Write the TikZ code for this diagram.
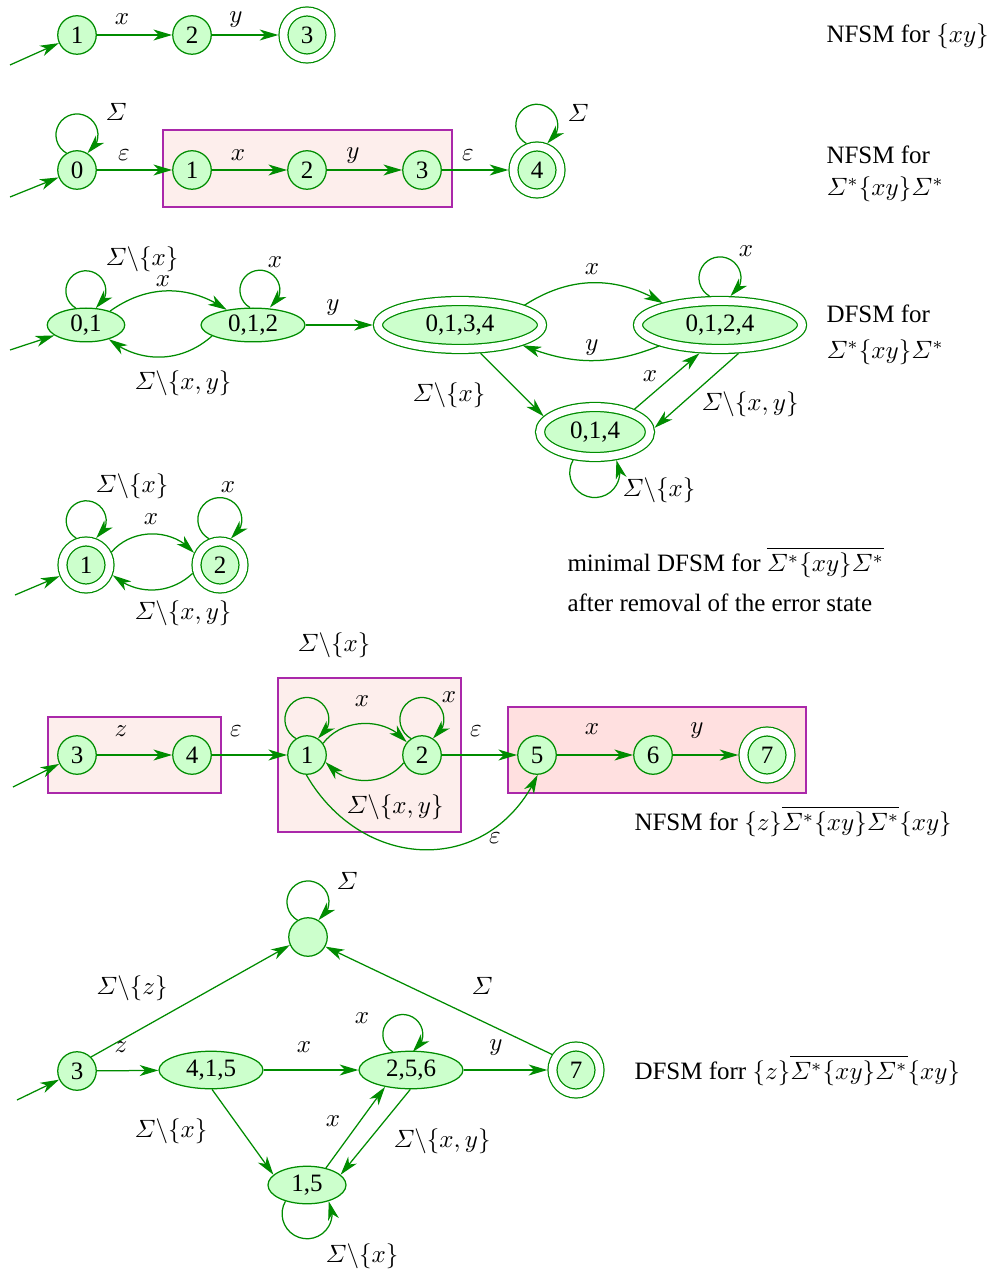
\documentclass[tikz,border=0pt]{standalone}
\usepackage{amsmath}
\usepackage{fontspec}
\setmainfont{Liberation Serif}
\usetikzlibrary{shapes.geometric,arrows.meta,bending}
\definecolor{fg}{RGB}{0,140,0}
\definecolor{fl}{RGB}{204,255,204}
\definecolor{bx}{RGB}{170,40,170}
\definecolor{pka}{RGB}{253,238,236}
\definecolor{pkb}{RGB}{255,224,224}
\newcommand{\Sx}{\varSigma\backslash\{x\}}
\newcommand{\Sxy}{\varSigma\backslash\{x,y\}}
\newcommand{\Sz}{\varSigma\backslash\{z\}}
\newcommand{\Sst}{\varSigma^*\{xy\}\varSigma^*}
\begin{document}
\begin{tikzpicture}[x=0.4pt,y=0.4pt,
 st/.style={circle,draw=fg,fill=fl,line width=0.5pt,minimum size=15.4pt,inner sep=0pt},
 acc/.style={st,minimum size=18.8pt,double=white,double distance=3.1pt,outer sep=2.05pt},
 el/.style={ellipse,draw=fg,fill=fl,line width=0.5pt,inner sep=0pt},
 accel/.style={el,double=white,double distance=3.1pt,outer sep=2.05pt},
 tr/.style={draw=fg,line width=0.5pt,-{Stealth[length=7.5pt,width=4.4pt,inset=2.2pt,flex]}},
 lb/.style={inner sep=0pt},
 txt/.style={anchor=base west,inner sep=0pt},
 bxa/.style={draw=bx,fill=pka,line width=0.5pt},
 bxb/.style={draw=bx,fill=pkb,line width=0.5pt}]
\fill[white] (0,0) rectangle (992,-1271);
\useasboundingbox (0,0) rectangle (992,-1271);

% ---------- row 1 ----------
\coordinate (a0) at (10,-65);
\node[st] (a1) at (77,-35) {1};
\node[st] (a2) at (192,-35) {2};
\node[acc] (a3) at (307,-35) {3};
\draw[tr] (a0) -- (a1);
\draw[tr] (a1) -- (a2);
\draw[tr] (a2) -- (a3);
\node[lb] (la1) at (122,-19) {$x$};
\node[lb] (la2) at (236,-20) {$y$};
\node[txt] (ta) at (826,-43) {NFSM for $\{xy\}$};

% ---------- row 2 ----------
\draw[bxa] (163,-130) rectangle (452,-207);
\coordinate (b00) at (10,-197);
\node[st] (b0) at (77,-170) {0};
\node[st] (b1) at (192,-170) {1};
\node[st] (b2) at (307,-170) {2};
\node[st] (b3) at (422,-170) {3};
\node[acc] (b4) at (537,-170) {4};
\draw[tr] (b00) -- (b0);
\draw[tr] (b0.122) arc[start angle=240,end angle=-60,radius=21];
\draw[tr] (b0) -- (b1);
\draw[tr] (b1) -- (b2);
\draw[tr] (b2) -- (b3);
\draw[tr] (b3) -- (b4);
\draw[tr] (b4.112) arc[start angle=240,end angle=-60,radius=21];
\node[lb] (lb1) at (116,-112) {$\varSigma$};
\node[lb] (lb2) at (124,-155) {$\varepsilon$};
\node[lb] (lb3) at (238,-155) {$x$};
\node[lb] (lb4) at (353,-156) {$y$};
\node[lb] (lb5) at (468,-155) {$\varepsilon$};
\node[lb] (lb6) at (578,-113) {$\varSigma$};
\node[txt] (tb1) at (826,-164) {NFSM for};
\node[txt] (tb2) at (826,-196) {$\Sst$};

% ---------- row 3 ----------
\coordinate (c00) at (10,-350);
\node[el,minimum width=31pt,minimum height=13.5pt] (c01) at (86,-325) {0,1};
\node[el,minimum width=41.6pt,minimum height=13.5pt] (c012) at (253,-325) {0,1,2};
\node[accel,minimum width=65.6pt,minimum height=19.2pt] (c0134) at (460,-325) {0,1,3,4};
\node[accel,minimum width=65.6pt,minimum height=19.2pt] (c0124) at (720,-325) {0,1,2,4};
\node[accel,minimum width=44pt,minimum height=20pt] (c014) at (595,-432) {0,1,4};
\draw[tr] (c00) -- (c01);
\draw[tr] (c01.121) arc[start angle=240,end angle=-60,radius=20];
\draw[tr] (c01.30) to[bend left=35] (c012.150);
\draw[tr] (c012.195) to[bend left=40] (c01.328);
\draw[tr] (c012.100) arc[start angle=240,end angle=-60,radius=20];
\draw[tr] (c012) -- (c0134);
\draw[tr] (c0134.17) to[bend left=32] (c0124.159);
\draw[tr] (c0124.199) to[bend left=22] (c0134.342);
\draw[tr] (c0124.110) arc[start angle=240,end angle=-60,radius=21];
\draw[tr] (c0134.306) -- (c014.163);
\draw[tr] (c014.30) -- (c0124.234);
\draw[tr] (c0124.303) -- (c014.4);
\draw[tr] (c014.232) arc[start angle=150,end angle=390,radius=25];
\node[lb] (lc1) at (142,-259) {$\Sx$};
\node[lb] (lc2) at (163,-281) {$x$};
\node[lb] (lc3) at (275,-262) {$x$};
\node[lb] (lc4) at (183,-383) {$\Sxy$};
\node[lb] (lc5) at (333,-308) {$y$};
\node[lb] (lc6) at (592,-269) {$x$};
\node[lb] (lc7) at (592,-348) {$y$};
\node[lb] (lc8) at (746,-251) {$x$};
\node[lb] (lc9) at (449,-395) {$\Sx$};
\node[lb] (lc10) at (650,-376) {$x$};
\node[lb] (lc11) at (750,-404) {$\Sxy$};
\node[lb] (lc12) at (659,-490) {$\Sx$};
\node[txt] (tc1) at (826,-323) {DFSM for};
\node[txt] (tc2) at (826,-359) {$\Sst$};

% ---------- row 4 ----------
\coordinate (d0) at (15,-595);
\node[acc] (d1) at (86,-565) {1};
\node[acc] (d2) at (220,-565) {2};
\draw[tr] (d0) -- (d1);
\draw[tr] (d1.110) arc[start angle=240,end angle=-60,radius=20];
\draw[tr] (d2.113) arc[start angle=240,end angle=-60,radius=22];
\draw[tr] (d1.27) to[bend left=50] (d2.155);
\draw[tr] (d2.197) to[bend left=42] (d1.339);
\node[lb] (ld1) at (132,-486) {$\Sx$};
\node[lb] (ld2) at (228,-487) {$x$};
\node[lb] (ld3) at (151,-519) {$x$};
\node[lb] (ld4) at (183,-613) {$\Sxy$};
\node[txt] (td1) at (567,-571) {minimal DFSM for $\overline{\Sst}$};
\node[txt] (td2) at (567,-611) {after removal of the error state};

% ---------- row 5 ----------
\draw[bxa] (48,-717) rectangle (221,-793);
\draw[bxa] (278,-678) rectangle (461,-832);
\draw[bxb] (508,-707) rectangle (806,-793);
\coordinate (e0) at (13,-787);
\node[st] (e3) at (77,-755) {3};
\node[st] (e4) at (192,-755) {4};
\node[st] (e1) at (307,-755) {1};
\node[st] (e2) at (422,-755) {2};
\node[st] (e5) at (537,-755) {5};
\node[st] (e6) at (653,-755) {6};
\node[acc] (e7) at (767,-755) {7};
\draw[tr] (e0) -- (e3);
\draw[tr] (e3) -- (e4);
\draw[tr] (e4) -- (e1);
\draw[tr] (e1.124) arc[start angle=240,end angle=-60,radius=22];
\draw[tr] (e2.124) arc[start angle=240,end angle=-60,radius=22];
\draw[tr] (e1.36) to[bend left=52] (e2.140);
\draw[tr] (e2.203) to[bend left=52] (e1.339);
\draw[tr] (e2) -- (e5);
\draw[tr] (e5) -- (e6);
\draw[tr] (e6) -- (e7);
\draw[tr] (e1.268) to[out=-60,in=-115,looseness=1.25] (e5.272);
\node[lb] (le1) at (121,-731) {$z$};
\node[lb] (le2) at (236,-731) {$\varepsilon$};
\node[lb] (le3) at (362,-701) {$x$};
\node[lb] (le4) at (449,-697) {$x$};
\node[lb] (le5) at (395,-807) {$\Sxy$};
\node[lb] (le6) at (334,-645) {$\Sx$};
\node[lb] (le7) at (476,-731) {$\varepsilon$};
\node[lb] (le8) at (592,-729) {$x$};
\node[lb] (le9) at (697,-731) {$y$};
\node[lb] (le10) at (495,-838) {$\varepsilon$};
\node[txt] (te) at (634,-830) {NFSM for $\{z\}\overline{\Sst}\{xy\}$};

% ---------- row 6 ----------
\coordinate (f0) at (17,-1100);
\node[st] (f3) at (77,-1071) {3};
\node[st] (ferr) at (308,-937) {};
\node[el,minimum width=41.6pt,minimum height=15pt] (f415) at (211,-1070) {4,1,5};
\node[el,minimum width=41.6pt,minimum height=15pt] (f256) at (411,-1070) {2,5,6};
\node[acc] (f7) at (576,-1070) {7};
\node[el,minimum width=31.2pt,minimum height=15pt] (f15) at (307,-1185) {1,5};
\draw[tr] (f0) -- (f3);
\draw[tr] (f3.45) -- (ferr.204);
\draw[tr] (f7.147) -- (ferr.331);
\draw[tr] (ferr.122) arc[start angle=240,end angle=-60,radius=21];
\draw[tr] (f3) -- (f415);
\draw[tr] (f415) -- (f256);
\draw[tr] (f256) -- (f7);
\draw[tr] (f256.135) arc[start angle=240,end angle=-60,radius=20];
\draw[tr] (f415.273) -- (f15.163);
\draw[tr] (f15.42) -- (f256.213);
\draw[tr] (f256.268) -- (f15.17);
\draw[tr] (f15.217) arc[start angle=150,end angle=390,radius=25];
\node[lb] (lf1) at (347,-881) {$\varSigma$};
\node[lb] (lf2) at (132,-988) {$\Sz$};
\node[lb] (lf3) at (482,-986) {$\varSigma$};
\node[lb] (lf4) at (121,-1047) {$z$};
\node[lb] (lf5) at (304,-1047) {$x$};
\node[lb] (lf6) at (496,-1048) {$y$};
\node[lb] (lf7) at (362,-1018) {$x$};
\node[lb] (lf8) at (333,-1121) {$x$};
\node[lb] (lf9) at (442,-1141) {$\Sxy$};
\node[lb] (lf10) at (171,-1131) {$\Sx$};
\node[lb] (lf11) at (362,-1256) {$\Sx$};
\node[txt] (tf) at (634,-1079) {DFSM forr $\{z\}\overline{\Sst}\{xy\}$};
\end{tikzpicture}
\end{document}
